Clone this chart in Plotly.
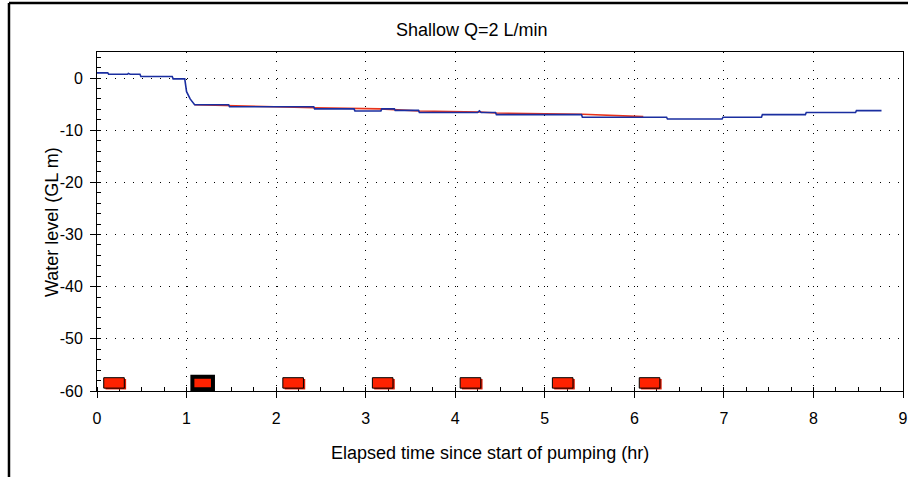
import plotly.graph_objects as go

# Observed water level (blue)
obs_time = [0.0, 0.12, 0.13, 0.34, 0.35, 0.37, 0.48, 0.49, 0.84, 0.85, 0.98, 0.99, 1.0, 1.04, 1.09,
            1.47, 1.48, 2.42, 2.43, 2.87, 2.88, 3.17, 3.18, 3.32, 3.33, 3.59, 3.6, 4.25, 4.27, 4.29,
            4.45, 4.46, 5.41, 5.42, 6.36, 6.37, 6.98, 6.99, 7.42, 7.43, 7.91, 7.92, 8.47, 8.48, 8.76]
obs_level = [1.0, 1.0, 0.73, 0.73, 0.9, 0.73, 0.73, 0.29, 0.29, -0.15, -0.15, -1.2, -2.6, -4.0, -5.1,
             -5.1, -5.5, -5.5, -5.9, -5.9, -6.3, -6.3, -5.9, -5.9, -6.2, -6.2, -6.6, -6.6, -6.3, -6.6,
             -6.6, -7.0, -7.0, -7.5, -7.5, -7.85, -7.85, -7.5, -7.5, -7.0, -7.0, -6.6, -6.6, -6.25, -6.25]

# Modelled water level (red)
mod_time = [1.09, 1.48, 2.43, 3.16, 3.33, 3.6, 4.27, 4.46, 5.42, 6.1]
mod_level = [-5.1, -5.3, -5.7, -5.9, -6.0, -6.3, -6.5, -6.7, -6.95, -7.4]

# Sample markers along the bottom
sample_time = [0.19, 1.18, 2.19, 3.19, 4.17, 5.2, 6.17]
selected_index = 1
marker_level = -58.45
marker_halfwidth = 0.115
marker_halfheight = 1.0

x_ticks = [0, 1, 2, 3, 4, 5, 6, 7, 8, 9]
y_ticks = [0, -10, -20, -30, -40, -50, -60]

fig = go.Figure()
fig.add_trace(go.Scatter(x=mod_time, y=mod_level, mode="lines",
                         line=dict(color="#E8341C", width=1.6), showlegend=False))
fig.add_trace(go.Scatter(x=obs_time, y=obs_level, mode="lines",
                         line=dict(color="#1A2EA0", width=1.6), showlegend=False))

shapes = []
for i, t in enumerate(sample_time):
    if i == selected_index:
        shapes.append(dict(type="rect", xref="x", yref="y",
                           x0=t - marker_halfwidth, x1=t + marker_halfwidth,
                           y0=marker_level - marker_halfheight - 0.2, y1=marker_level + marker_halfheight + 0.2,
                           fillcolor="#FF2200", line=dict(color="black", width=4), layer="above"))
    else:
        shapes.append(dict(type="rect", xref="x", yref="y",
                           x0=t - marker_halfwidth + 0.02, x1=t + marker_halfwidth + 0.02,
                           y0=marker_level - marker_halfheight - 0.25, y1=marker_level + marker_halfheight - 0.25,
                           fillcolor="#D81800", line=dict(width=0), layer="above"))
        shapes.append(dict(type="rect", xref="x", yref="y",
                           x0=t - marker_halfwidth, x1=t + marker_halfwidth,
                           y0=marker_level - marker_halfheight, y1=marker_level + marker_halfheight,
                           fillcolor="#FF2200", line=dict(color="black", width=1), layer="above"))

# outer page border (left and top edges)
shapes.append(dict(type="line", xref="paper", yref="paper", x0=-0.1092, x1=-0.1092, y0=-0.3, y1=1.1445,
                   line=dict(color="black", width=2.5)))
shapes.append(dict(type="line", xref="paper", yref="paper", x0=-0.1092, x1=1.2, y0=1.1445, y1=1.1445,
                   line=dict(color="black", width=2.5)))

font = "Liberation Sans, Arial, sans-serif"
fig.update_layout(
    width=908, height=477,
    margin=dict(l=97, r=5, t=52, b=86),
    paper_bgcolor="white", plot_bgcolor="white",
    font=dict(family=font, size=18, color="black"),
    shapes=shapes,
    annotations=[
        dict(text="Shallow Q=2 L/min", xref="paper", yref="paper", x=(472 - 97) / 806, y=(391 - 30) / 339,
             xanchor="center", yanchor="middle", showarrow=False, font=dict(size=18)),
        dict(text="Elapsed time since start of pumping (hr)", xref="paper", yref="paper",
             x=(490 - 97) / 806, y=(391 - 453) / 339, xanchor="center", yanchor="middle",
             showarrow=False, font=dict(size=18)),
        dict(text="Water level (GL m)", xref="paper", yref="paper", textangle=-90,
             x=(52 - 97) / 806, y=(391 - 222) / 339, xanchor="center", yanchor="middle",
             showarrow=False, font=dict(size=18)),
    ],
)
fig.update_xaxes(
    range=[0, 9], tickvals=x_ticks, ticktext=[str(v) for v in x_ticks],
    showline=True, mirror=True, linecolor="black", linewidth=1,
    showgrid=True, gridcolor="black", gridwidth=1, griddash="1px,8px",
    ticks="outside", ticklen=6, tickcolor="black", tickfont=dict(size=16),
    ticklabelstandoff=7,
    minor=dict(dtick=0.25, ticks="inside", ticklen=4, tickcolor="black", showgrid=False),
    zeroline=False, automargin=False,
)
fig.update_yaxes(
    range=[-60, 5], tickvals=y_ticks, ticktext=[str(v) for v in y_ticks],
    showline=True, mirror=True, linecolor="black", linewidth=1,
    showgrid=True, gridcolor="black", gridwidth=1, griddash="1px,8px",
    ticks="outside", ticklen=6, tickcolor="black", tickfont=dict(size=16),
    ticklabelstandoff=4,
    minor=dict(dtick=2, ticks="inside", ticklen=4, tickcolor="black", showgrid=False),
    zeroline=False, automargin=False,
)
fig.write_html("out.html")
